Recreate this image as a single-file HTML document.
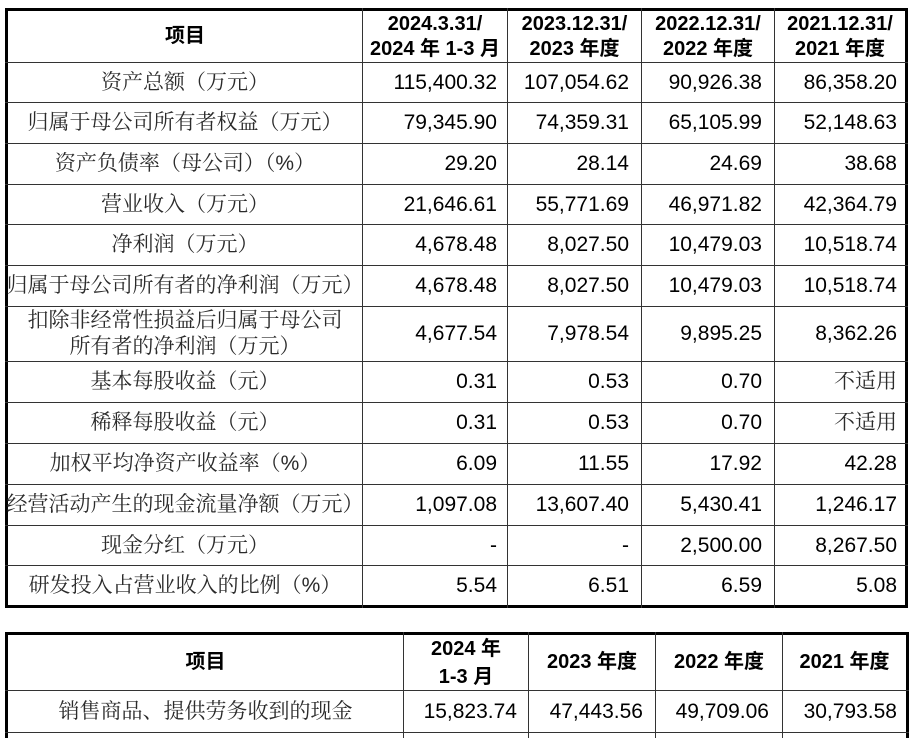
<!DOCTYPE html>
<html>
<head>
<meta charset="utf-8">
<style>
html,body{margin:0;padding:0;background:#fff;width:914px;height:738px;overflow:hidden;position:relative}
.b{position:absolute;border:3px solid #000;box-sizing:border-box}
.h{position:absolute;height:1px;background:#333}
.v{position:absolute;width:1px;background:#333}
.c{position:absolute;display:flex;align-items:center;white-space:nowrap;font-size:21px;line-height:26px}
.l{justify-content:center;text-align:center;color:#2b2b2b;font-family:"Liberation Sans","Noto Serif CJK SC",serif}
.n{justify-content:flex-end;color:#000;font-family:"Liberation Sans","Noto Serif CJK SC",sans-serif}
.hd{justify-content:center;text-align:center;font-weight:bold;font-size:20px;line-height:25px;font-family:"Liberation Sans","Noto Sans CJK SC",sans-serif;color:#000}
</style>
</head>
<body>
<!-- Table 1 frame -->
<div class="b" style="left:5px;top:8px;width:903px;height:600px"></div>
<div class="v" style="left:362px;top:8px;height:600px"></div>
<div class="v" style="left:507px;top:8px;height:600px"></div>
<div class="v" style="left:641px;top:8px;height:600px"></div>
<div class="v" style="left:774px;top:8px;height:600px"></div>
<div class="h" style="left:5px;top:62px;width:903px"></div>
<div class="h" style="left:5px;top:102px;width:903px"></div>
<div class="h" style="left:5px;top:143px;width:903px"></div>
<div class="h" style="left:5px;top:184px;width:903px"></div>
<div class="h" style="left:5px;top:224px;width:903px"></div>
<div class="h" style="left:5px;top:265px;width:903px"></div>
<div class="h" style="left:5px;top:306px;width:903px"></div>
<div class="h" style="left:5px;top:361px;width:903px"></div>
<div class="h" style="left:5px;top:402px;width:903px"></div>
<div class="h" style="left:5px;top:443px;width:903px"></div>
<div class="h" style="left:5px;top:484px;width:903px"></div>
<div class="h" style="left:5px;top:525px;width:903px"></div>
<div class="h" style="left:5px;top:565px;width:903px"></div>

<!-- Table 1 header -->
<div class="c hd" style="left:8px;top:11px;width:354px;height:51px">项目</div>
<div class="c hd" style="left:363px;top:11px;width:144px;height:51px">2024.3.31/<br>2024 年 1-3 月</div>
<div class="c hd" style="left:508px;top:11px;width:133px;height:51px">2023.12.31/<br>2023 年度</div>
<div class="c hd" style="left:642px;top:11px;width:132px;height:51px">2022.12.31/<br>2022 年度</div>
<div class="c hd" style="left:775px;top:11px;width:130px;height:51px">2021.12.31/<br>2021 年度</div>

<!-- Row 1 -->
<div class="c l" style="left:8px;top:63px;width:354px;height:39px">资产总额（万元）</div>
<div class="c n" style="left:363px;top:63px;width:134px;height:39px">115,400.32</div>
<div class="c n" style="left:508px;top:63px;width:121px;height:39px">107,054.62</div>
<div class="c n" style="left:642px;top:63px;width:120px;height:39px">90,926.38</div>
<div class="c n" style="left:775px;top:63px;width:122px;height:39px">86,358.20</div>
<!-- Row 2 -->
<div class="c l" style="left:8px;top:103px;width:354px;height:40px">归属于母公司所有者权益（万元）</div>
<div class="c n" style="left:363px;top:103px;width:134px;height:40px">79,345.90</div>
<div class="c n" style="left:508px;top:103px;width:121px;height:40px">74,359.31</div>
<div class="c n" style="left:642px;top:103px;width:120px;height:40px">65,105.99</div>
<div class="c n" style="left:775px;top:103px;width:122px;height:40px">52,148.63</div>
<!-- Row 3 -->
<div class="c l" style="left:8px;top:144px;width:354px;height:40px">资产负债率（母公司）（%）</div>
<div class="c n" style="left:363px;top:144px;width:134px;height:40px">29.20</div>
<div class="c n" style="left:508px;top:144px;width:121px;height:40px">28.14</div>
<div class="c n" style="left:642px;top:144px;width:120px;height:40px">24.69</div>
<div class="c n" style="left:775px;top:144px;width:122px;height:40px">38.68</div>
<!-- Row 4 -->
<div class="c l" style="left:8px;top:185px;width:354px;height:39px">营业收入（万元）</div>
<div class="c n" style="left:363px;top:185px;width:134px;height:39px">21,646.61</div>
<div class="c n" style="left:508px;top:185px;width:121px;height:39px">55,771.69</div>
<div class="c n" style="left:642px;top:185px;width:120px;height:39px">46,971.82</div>
<div class="c n" style="left:775px;top:185px;width:122px;height:39px">42,364.79</div>
<!-- Row 5 -->
<div class="c l" style="left:8px;top:225px;width:354px;height:40px">净利润（万元）</div>
<div class="c n" style="left:363px;top:225px;width:134px;height:40px">4,678.48</div>
<div class="c n" style="left:508px;top:225px;width:121px;height:40px">8,027.50</div>
<div class="c n" style="left:642px;top:225px;width:120px;height:40px">10,479.03</div>
<div class="c n" style="left:775px;top:225px;width:122px;height:40px">10,518.74</div>
<!-- Row 6 -->
<div class="c l" style="left:8px;top:266px;width:354px;height:40px">归属于母公司所有者的净利润（万元）</div>
<div class="c n" style="left:363px;top:266px;width:134px;height:40px">4,678.48</div>
<div class="c n" style="left:508px;top:266px;width:121px;height:40px">8,027.50</div>
<div class="c n" style="left:642px;top:266px;width:120px;height:40px">10,479.03</div>
<div class="c n" style="left:775px;top:266px;width:122px;height:40px">10,518.74</div>
<!-- Row 7 -->
<div class="c l" style="left:8px;top:307px;width:354px;height:54px">扣除非经常性损益后归属于母公司<br>所有者的净利润（万元）</div>
<div class="c n" style="left:363px;top:307px;width:134px;height:54px">4,677.54</div>
<div class="c n" style="left:508px;top:307px;width:121px;height:54px">7,978.54</div>
<div class="c n" style="left:642px;top:307px;width:120px;height:54px">9,895.25</div>
<div class="c n" style="left:775px;top:307px;width:122px;height:54px">8,362.26</div>
<!-- Row 8 -->
<div class="c l" style="left:8px;top:362px;width:354px;height:40px">基本每股收益（元）</div>
<div class="c n" style="left:363px;top:362px;width:134px;height:40px">0.31</div>
<div class="c n" style="left:508px;top:362px;width:121px;height:40px">0.53</div>
<div class="c n" style="left:642px;top:362px;width:120px;height:40px">0.70</div>
<div class="c n" style="left:775px;top:362px;width:122px;height:40px;color:#2b2b2b">不适用</div>
<!-- Row 9 -->
<div class="c l" style="left:8px;top:403px;width:354px;height:40px">稀释每股收益（元）</div>
<div class="c n" style="left:363px;top:403px;width:134px;height:40px">0.31</div>
<div class="c n" style="left:508px;top:403px;width:121px;height:40px">0.53</div>
<div class="c n" style="left:642px;top:403px;width:120px;height:40px">0.70</div>
<div class="c n" style="left:775px;top:403px;width:122px;height:40px;color:#2b2b2b">不适用</div>
<!-- Row 10 -->
<div class="c l" style="left:8px;top:444px;width:354px;height:40px">加权平均净资产收益率（%）</div>
<div class="c n" style="left:363px;top:444px;width:134px;height:40px">6.09</div>
<div class="c n" style="left:508px;top:444px;width:121px;height:40px">11.55</div>
<div class="c n" style="left:642px;top:444px;width:120px;height:40px">17.92</div>
<div class="c n" style="left:775px;top:444px;width:122px;height:40px">42.28</div>
<!-- Row 11 -->
<div class="c l" style="left:8px;top:485px;width:354px;height:40px">经营活动产生的现金流量净额（万元）</div>
<div class="c n" style="left:363px;top:485px;width:134px;height:40px">1,097.08</div>
<div class="c n" style="left:508px;top:485px;width:121px;height:40px">13,607.40</div>
<div class="c n" style="left:642px;top:485px;width:120px;height:40px">5,430.41</div>
<div class="c n" style="left:775px;top:485px;width:122px;height:40px">1,246.17</div>
<!-- Row 12 -->
<div class="c l" style="left:8px;top:526px;width:354px;height:39px">现金分红（万元）</div>
<div class="c n" style="left:363px;top:526px;width:134px;height:39px">-</div>
<div class="c n" style="left:508px;top:526px;width:121px;height:39px">-</div>
<div class="c n" style="left:642px;top:526px;width:120px;height:39px">2,500.00</div>
<div class="c n" style="left:775px;top:526px;width:122px;height:39px">8,267.50</div>
<!-- Row 13 -->
<div class="c l" style="left:8px;top:566px;width:354px;height:39px">研发投入占营业收入的比例（%）</div>
<div class="c n" style="left:363px;top:566px;width:134px;height:39px">5.54</div>
<div class="c n" style="left:508px;top:566px;width:121px;height:39px">6.51</div>
<div class="c n" style="left:642px;top:566px;width:120px;height:39px">6.59</div>
<div class="c n" style="left:775px;top:566px;width:122px;height:39px">5.08</div>

<!-- Table 2 frame -->
<div class="b" style="left:5px;top:632px;width:904px;height:106px;border-bottom:0"></div>
<div class="v" style="left:403px;top:632px;height:106px"></div>
<div class="v" style="left:528px;top:632px;height:106px"></div>
<div class="v" style="left:655px;top:632px;height:106px"></div>
<div class="v" style="left:782px;top:632px;height:106px"></div>
<div class="h" style="left:5px;top:690px;width:904px"></div>
<div class="h" style="left:5px;top:732px;width:904px"></div>

<!-- Table 2 header -->
<div class="c hd" style="left:8px;top:635px;width:395px;height:55px">项目</div>
<div class="c hd" style="left:404px;top:635px;width:124px;height:55px;line-height:28px">2024 年<br>1-3 月</div>
<div class="c hd" style="left:529px;top:635px;width:126px;height:55px">2023 年度</div>
<div class="c hd" style="left:656px;top:635px;width:126px;height:55px">2022 年度</div>
<div class="c hd" style="left:783px;top:635px;width:123px;height:55px">2021 年度</div>

<!-- Table 2 row -->
<div class="c l" style="left:8px;top:691px;width:395px;height:41px">销售商品、提供劳务收到的现金</div>
<div class="c n" style="left:404px;top:691px;width:113px;height:41px">15,823.74</div>
<div class="c n" style="left:529px;top:691px;width:114px;height:41px">47,443.56</div>
<div class="c n" style="left:656px;top:691px;width:113px;height:41px">49,709.06</div>
<div class="c n" style="left:783px;top:691px;width:114px;height:41px">30,793.58</div>
</body>
</html>
